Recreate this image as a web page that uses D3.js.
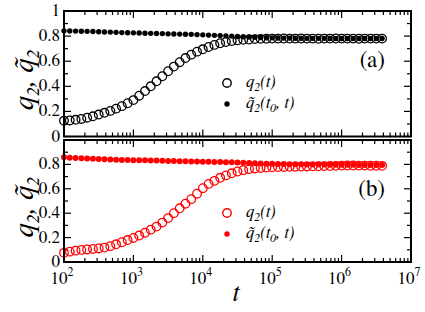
<!DOCTYPE html>
<html><head><meta charset="utf-8">
<script src="https://cdn.jsdelivr.net/npm/d3@7"></script>
<style>body{margin:0;background:#fff}svg{display:block}svg text{font-family:"FreeSerif","Liberation Serif","Times New Roman",serif}</style>
</head><body>
<script>
// log10(t) sampling of the simulation points
const logT = [2.000,2.083,2.167,2.250,2.333,2.417,2.500,2.583,2.667,2.750,2.833,2.917,
  3.000,3.083,3.167,3.250,3.333,3.417,3.500,3.583,3.667,3.750,3.833,3.917,
  4.000,4.083,4.167,4.250,4.333,4.417,4.500,4.583,4.667,4.750,4.833,4.917,
  5.000,5.083,5.167,5.250,5.333,5.417,5.500,5.583,5.667,5.750,5.833,5.917,
  6.000,6.083,6.167,6.250,6.333,6.417,6.500,6.583];
// panel (a), black
const q2a = [0.125,0.128,0.133,0.140,0.150,0.161,0.175,0.189,0.204,0.222,0.242,0.265,
  0.290,0.325,0.362,0.400,0.440,0.480,0.520,0.557,0.592,0.625,0.652,0.676,
  0.695,0.713,0.730,0.743,0.753,0.760,0.766,0.770,0.773,0.776,0.778,0.779,
  0.780,0.780,0.781,0.780,0.780,0.781,0.780,0.780,0.779,0.780,0.780,0.781,
  0.780,0.780,0.780,0.779,0.780,0.780,0.780,0.780];
const q2ta = [0.842,0.841,0.840,0.839,0.838,0.837,0.835,0.833,0.832,0.830,0.828,0.827,
  0.826,0.825,0.823,0.822,0.821,0.820,0.818,0.817,0.816,0.815,0.814,0.812,
  0.810,0.808,0.806,0.804,0.802,0.800,0.797,0.795,0.793,0.791,0.789,0.787,
  0.786,0.785,0.784,0.784,0.783,0.783,0.782,0.782,0.782,0.782,0.781,0.781,
  0.781,0.781,0.781,0.781,0.781,0.781,0.781,0.781];
// panel (b), red
const q2b = [0.075,0.085,0.093,0.099,0.103,0.107,0.111,0.118,0.130,0.145,0.162,0.180,
  0.197,0.217,0.240,0.265,0.290,0.323,0.360,0.400,0.440,0.478,0.515,0.560,
  0.605,0.640,0.665,0.690,0.710,0.727,0.742,0.753,0.761,0.767,0.771,0.774,
  0.776,0.778,0.779,0.780,0.781,0.782,0.783,0.784,0.785,0.786,0.787,0.788,
  0.790,0.791,0.791,0.790,0.790,0.789,0.789,0.788];
const q2tb = [0.858,0.855,0.852,0.850,0.848,0.847,0.845,0.843,0.841,0.839,0.837,0.836,
  0.835,0.834,0.833,0.832,0.831,0.830,0.828,0.827,0.826,0.825,0.824,0.823,
  0.822,0.821,0.820,0.819,0.818,0.817,0.815,0.814,0.812,0.810,0.808,0.806,
  0.805,0.804,0.803,0.802,0.801,0.801,0.800,0.800,0.799,0.799,0.798,0.798,
  0.797,0.797,0.797,0.796,0.796,0.796,0.796,0.796];
const xTickExps = [2,3,4,5,6,7];
const yTicksA = [0,0.2,0.4,0.6,0.8,1];
const yTicksB = [0,0.2,0.4,0.6,0.8];
const yMinor = [0.1,0.3,0.5,0.7,0.9];

const W = 425, H = 312;
const svg = d3.select("body").append("svg").attr("width", W).attr("height", H);
const x = d3.scaleLog().domain([1e2, 1e7]).range([64, 411]);

const panels = [
  {top: 11, bottom: 136.5, open: q2a, filled: q2ta, color: "#000", yt: yTicksA, tag: "(a)", tagY: 67,
   legY: [83, 104], dotR: 2.7},
  {top: 140, bottom: 262, open: q2b, filled: q2tb, color: "#ff0000", yt: yTicksB, tag: "(b)", tagY: 196,
   legY: [213, 234], dotR: 3}
];

const majorX = xTickExps.map(e => Math.pow(10, e));
const minorX = [];
for (let e = 2; e < 7; e++) for (let m = 2; m <= 9; m++) minorX.push(m * Math.pow(10, e));

panels.forEach((p, i) => {
  const y = d3.scaleLinear().domain([0, 1]).range([p.bottom, p.top]);
  const g = svg.append("g");
  const L = x.range()[0], R = x.range()[1];

  // ticks (inside, mirrored)
  const tk = g.append("g").attr("stroke", "#000").attr("stroke-width", 1.2);
  p.yt.concat([1]).forEach(v => {
    tk.append("line").attr("x1", L).attr("x2", L + 7).attr("y1", y(v)).attr("y2", y(v));
    tk.append("line").attr("x1", R).attr("x2", R - 7).attr("y1", y(v)).attr("y2", y(v));
  });
  yMinor.forEach(v => {
    tk.append("line").attr("x1", L).attr("x2", L + 4).attr("y1", y(v)).attr("y2", y(v));
    tk.append("line").attr("x1", R).attr("x2", R - 4).attr("y1", y(v)).attr("y2", y(v));
  });
  majorX.forEach(v => {
    tk.append("line").attr("x1", x(v)).attr("x2", x(v)).attr("y1", p.bottom).attr("y2", p.bottom - 7);
    tk.append("line").attr("x1", x(v)).attr("x2", x(v)).attr("y1", p.top).attr("y2", p.top + 7);
  });
  minorX.forEach(v => {
    tk.append("line").attr("x1", x(v)).attr("x2", x(v)).attr("y1", p.bottom).attr("y2", p.bottom - 4);
    tk.append("line").attr("x1", x(v)).attr("x2", x(v)).attr("y1", p.top).attr("y2", p.top + 4);
  });

  // y tick labels
  g.selectAll("text.yl").data(p.yt).join("text")
    .attr("x", 60).attr("y", d => y(d) + 5)
    .attr("text-anchor", "end").attr("font-size", 17)
    .text(d => String(d));

  // data
  g.append("g").selectAll("circle").data(logT).join("circle")
    .attr("cx", (d) => x(Math.pow(10, d))).attr("cy", (d, j) => y(p.open[j]))
    .attr("r", 4.3).attr("fill", "none").attr("stroke", p.color).attr("stroke-width", 1.3);
  g.append("g").selectAll("circle").data(logT).join("circle")
    .attr("cx", (d) => x(Math.pow(10, d))).attr("cy", (d, j) => y(p.filled[j]))
    .attr("r", p.dotR).attr("fill", p.color);

  // frame
  g.append("rect").attr("x", L).attr("y", p.top).attr("width", R - L).attr("height", p.bottom - p.top)
    .attr("fill", "none").attr("stroke", "#000").attr("stroke-width", 2);

  // panel tag
  g.append("text").attr("x", 385).attr("y", p.tagY).attr("text-anchor", "end")
    .attr("font-size", 23).text(p.tag);

  // legend
  g.append("circle").attr("cx", 227).attr("cy", p.legY[0]).attr("r", 4.2)
    .attr("fill", "none").attr("stroke", p.color).attr("stroke-width", 1.4);
  g.append("circle").attr("cx", 227).attr("cy", p.legY[1]).attr("r", 2.7).attr("fill", p.color);
  const t1 = g.append("text").attr("x", 246).attr("y", p.legY[0] + 4)
    .attr("font-size", 17).attr("font-style", "italic");
  t1.append("tspan").text("q");
  t1.append("tspan").attr("font-size", 12).attr("dy", 4).text("2");
  t1.append("tspan").attr("dy", -4).text("(t)");
  const t2 = g.append("text").attr("x", 246).attr("y", p.legY[1] + 4)
    .attr("font-size", 17).attr("font-style", "italic");
  t2.append("tspan").text("q\u0303");
  t2.append("tspan").attr("font-size", 12).attr("dy", 4).text("2");
  t2.append("tspan").attr("dy", -4).text("(t");
  t2.append("tspan").attr("font-size", 12).attr("dy", 4).text("0");
  t2.append("tspan").attr("dy", -4).text(", t)");

  // y label
  const yl = g.append("text")
    .attr("transform", `translate(33,${(p.top + p.bottom) / 2 + 6}) rotate(-90)`)
    .attr("text-anchor", "middle").attr("font-size", 29).attr("font-style", "italic");
  yl.append("tspan").text("q");
  yl.append("tspan").attr("font-size", 18).attr("dy", 6).text("2");
  yl.append("tspan").attr("dy", -6).text(", q\u0303");
  yl.append("tspan").attr("font-size", 18).attr("dy", 6).text("2");
});

// x tick labels
const xl = svg.append("g");
xTickExps.forEach(e => {
  const t = xl.append("text").attr("x", x(Math.pow(10, e)) - 2).attr("y", 284)
    .attr("text-anchor", "middle").attr("font-size", 17);
  t.append("tspan").text("10");
  t.append("tspan").attr("font-size", 12).attr("dy", -8).text(String(e));
});
svg.append("text").attr("x", 236).attr("y", 301).attr("text-anchor", "middle")
  .attr("font-size", 26).attr("font-style", "italic").text("t");
</script>
</body></html>
